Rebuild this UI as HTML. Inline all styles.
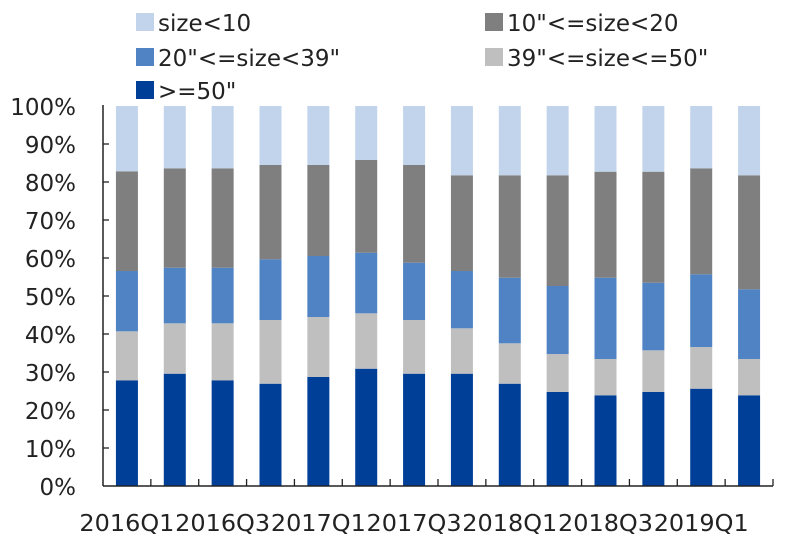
<!DOCTYPE html>
<html><head><meta charset="utf-8"><style>
html,body{margin:0;padding:0;background:#fff;}
svg{display:block;}
text{font-family:"DejaVu Sans","Liberation Sans",sans-serif;fill:#222;}
</style></head><body>
<svg width="800" height="548" viewBox="0 0 800 548" xmlns="http://www.w3.org/2000/svg">
<g font-size="23">
<rect x="136" y="13" width="18" height="18" fill="#c2d4ec"/><text x="158" y="31">size&lt;10</text>
<rect x="136" y="48" width="18" height="18" fill="#4f83c4"/><text x="158" y="66">20"&lt;=size&lt;39"</text>
<rect x="136" y="81" width="18" height="18" fill="#003f98"/><text x="158" y="99">&gt;=50"</text>
<rect x="485" y="13" width="18" height="18" fill="#7f7f7f"/><text x="507" y="31">10"&lt;=size&lt;20</text>
<rect x="485" y="48" width="18" height="18" fill="#bfbfbf"/><text x="507" y="66">39"&lt;=size&lt;=50"</text>
</g>
<g id="bars"></g>
<g stroke="#222" stroke-width="1.5" fill="none">
<line x1="103" y1="105" x2="103" y2="486"/>
<line x1="103" y1="486" x2="773" y2="486"/>
</g>
<g id="ticks" stroke="#222" stroke-width="1.3"></g>
<g id="lbl" font-size="23"></g>
<script>
var ns="http://www.w3.org/2000/svg";
var d=[[380.3,331.3,271,171.3],[373.7,323.3,267.7,168.3],[380.3,323.3,267.7,168.3],[383.7,320,259.3,165],[377,317,256,165],[368.7,313.3,252.7,160],[373.7,320,262.7,165],[373.7,328.3,271,175.3],[383.7,343.3,277.7,175.3],[392,354,286,175.3],[395.3,359,277.7,171.7],[392,350.3,282.7,171.7],[388.7,347,274.3,168.3],[395.3,359,289.3,175.3]];
var cols=["#003f98","#bfbfbf","#4f83c4","#7f7f7f","#c2d4ec"];
var g=document.getElementById("bars");
var step=670/14;
function r(x,y,w,h,f,p){var e=document.createElementNS(ns,"rect");e.setAttribute("x",x);e.setAttribute("y",y);e.setAttribute("width",w);e.setAttribute("height",h);e.setAttribute("fill",f);p.appendChild(e);}
d.forEach(function(b,i){var cx=103+step*(i+0.5),x=cx-11;var ys=[486].concat(b).concat([106]);
for(var k=0;k<5;k++){r(x,ys[k+1],22,ys[k]-ys[k+1],cols[k],g);}});
var t=document.getElementById("ticks");
function ln(x1,y1,x2,y2){var e=document.createElementNS(ns,"line");e.setAttribute("x1",x1);e.setAttribute("y1",y1);e.setAttribute("x2",x2);e.setAttribute("y2",y2);t.appendChild(e);}
for(var i=1;i<=14;i++){var x=103+step*i;ln(x,486,x,479);}
var L=document.getElementById("lbl");
function tx(x,y,s,a,tl){var e=document.createElementNS(ns,"text");e.setAttribute("x",x);e.setAttribute("y",y);e.setAttribute("text-anchor",a);if(tl){e.setAttribute("textLength",tl);e.setAttribute("lengthAdjust","spacingAndGlyphs");}e.textContent=s;L.appendChild(e);}
for(var p=0;p<=10;p++){var y=486-38*p;if(p>0&&p<10)ln(103,y,109,y);tx(76,y+9,(p*10)+"%","end");}
var labs=["2016Q1","2016Q3","2017Q1","2017Q3","2018Q1","2018Q3","2019Q1"];
labs.forEach(function(s,i){tx(103+step*(2*i+0.5),531,s,"middle",95);});
</script>
</svg>
</body></html>
